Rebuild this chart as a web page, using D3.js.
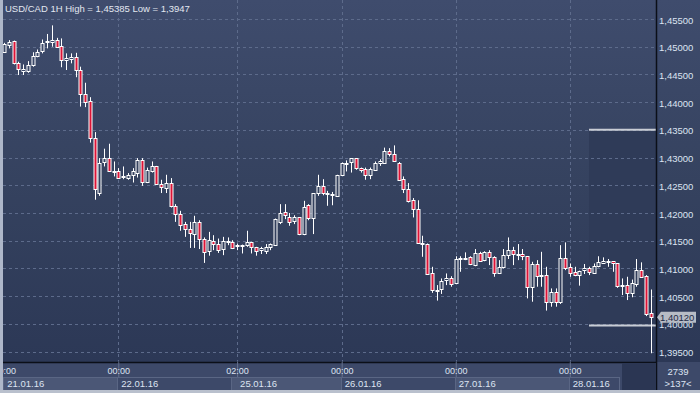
<!DOCTYPE html>
<html>
<head>
<meta charset="utf-8">
<script src="https://cdn.jsdelivr.net/npm/d3@7"></script>
<style>
  html, body { margin: 0; padding: 0; background: #2e3a57; }
  svg { display: block; font-family: "Liberation Sans", Arial, sans-serif; }
</style>
</head>
<body>
<svg id="chart" width="700" height="393"></svg>
<script>
const title = "USD/CAD 1H High = 1,45385 Low = 1,3947";

// hourly candles, 21.01.16 00:00 .. 28.01.16
const opens = [1.4491,1.4504,1.4510,1.4470,1.4457,1.4457,1.4467,1.4483,1.4491,1.4508,1.4510,1.4513,1.4501,1.4475,1.4478,1.4481,1.4458,1.4415,1.4402,1.4335,
  1.4237,1.4291,1.4299,1.4276,1.4276,1.4265,1.4264,1.4267,1.4273,1.4296,1.4257,1.4276,1.4285,1.4252,1.4246,1.4255,1.4213,1.4198,1.4180,1.4171,
  1.4163,1.4184,1.4154,1.4131,1.4150,1.4145,1.4135,1.4149,1.4147,1.4141,1.4142,1.4142,1.4148,1.4139,1.4132,1.4132,1.4138,1.4142,1.4183,1.4201,
  1.4193,1.4184,1.4192,1.4162,1.4214,1.4190,1.4236,1.4249,1.4236,1.4234,1.4232,1.4269,1.4290,1.4291,1.4299,1.4281,1.4279,1.4269,1.4279,1.4290,
  1.4291,1.4312,1.4306,1.4290,1.4261,1.4243,1.4223,1.4207,1.4146,1.4145,1.4091,1.4061,1.4062,1.4078,1.4083,1.4074,1.4117,1.4118,1.4120,1.4106,
  1.4128,1.4115,1.4129,1.4120,1.4092,1.4102,1.4124,1.4133,1.4126,1.4126,1.4122,1.4066,1.4108,1.4087,1.4088,1.4039,1.4057,1.4038,1.4118,1.4103,
  1.4094,1.4089,1.4096,1.4100,1.4092,1.4104,1.4111,1.4113,1.4113,1.4109,1.4069,1.4070,1.4055,1.4073,1.4098,1.4086,1.4019];
const highs = [1.4507,1.4512,1.4511,1.4473,1.4468,1.4474,1.4490,1.4495,1.4513,1.4523,1.45385,1.4516,1.4515,1.4488,1.4488,1.4489,1.4464,1.4435,1.4409,1.4346,
  1.4299,1.4316,1.4325,1.4293,1.4281,1.4284,1.4272,1.4281,1.4299,1.4299,1.4282,1.4293,1.4285,1.4260,1.4269,1.4263,1.4216,1.4204,1.4184,1.4184,
  1.4195,1.4187,1.4156,1.4166,1.4160,1.4154,1.4157,1.4156,1.4151,1.4145,1.4143,1.4168,1.4148,1.4139,1.4139,1.4144,1.4145,1.4190,1.4216,1.4216,
  1.4200,1.4196,1.4192,1.4222,1.4216,1.4236,1.4269,1.4261,1.4240,1.4238,1.4269,1.4291,1.4295,1.4299,1.4299,1.4282,1.4282,1.4282,1.4293,1.4297,
  1.4318,1.4317,1.4322,1.4292,1.4266,1.4254,1.4227,1.4223,1.4159,1.4145,1.4103,1.4070,1.4082,1.4091,1.4086,1.4122,1.4122,1.4129,1.4122,1.4135,
  1.4130,1.4131,1.4133,1.4122,1.4115,1.4135,1.4156,1.4139,1.4144,1.4135,1.4122,1.4112,1.4115,1.4130,1.4103,1.4064,1.4064,1.4142,1.4147,1.4109,
  1.4103,1.4096,1.4108,1.4103,1.4109,1.4122,1.4120,1.4117,1.4113,1.4109,1.4082,1.4085,1.4080,1.4117,1.4111,1.4088,1.4062];
const lows = [1.4489,1.4497,1.4468,1.4449,1.4449,1.4453,1.4464,1.4481,1.4488,1.4497,1.4500,1.4499,1.4463,1.4458,1.4470,1.4445,1.4392,1.4391,1.4327,1.4224,
  1.4231,1.4284,1.4274,1.4266,1.4263,1.4261,1.4260,1.4255,1.4264,1.4249,1.4254,1.4273,1.4251,1.4236,1.4236,1.4210,1.4184,1.4168,1.4157,1.4137,
  1.4137,1.4135,1.4110,1.4123,1.4133,1.4128,1.4124,1.4142,1.4135,1.4133,1.4127,1.4139,1.4127,1.4123,1.4126,1.4126,1.4133,1.4141,1.4180,1.4189,
  1.4177,1.4180,1.4160,1.4160,1.4187,1.4162,1.4231,1.4232,1.4213,1.4214,1.4231,1.4267,1.4275,1.4273,1.4278,1.4273,1.4260,1.4261,1.4278,1.4285,
  1.4290,1.4302,1.4293,1.4258,1.4236,1.4219,1.4192,1.4145,1.4121,1.4090,1.4056,1.4042,1.4054,1.4070,1.4067,1.4073,1.4094,1.4115,1.4106,1.4104,
  1.4112,1.4113,1.4106,1.4085,1.4090,1.4100,1.4117,1.4106,1.4115,1.4115,1.4046,1.4040,1.4067,1.4067,1.4024,1.4031,1.4031,1.4036,1.4097,1.4085,
  1.4086,1.4069,1.4090,1.4088,1.4090,1.4102,1.4109,1.4103,1.4094,1.4065,1.4052,1.4043,1.4048,1.4067,1.4084,1.4014,1.3947];
const closes = [1.4505,1.4509,1.4470,1.4459,1.4460,1.4467,1.4483,1.4491,1.4506,1.4510,1.4513,1.4500,1.4475,1.4479,1.4481,1.4458,1.4415,1.4401,1.4335,1.4243,
  1.4291,1.4299,1.4275,1.4275,1.4264,1.4266,1.4269,1.4275,1.4296,1.4257,1.4278,1.4285,1.4252,1.4247,1.4255,1.4213,1.4198,1.4178,1.4171,1.4163,
  1.4184,1.4153,1.4131,1.4151,1.4144,1.4135,1.4149,1.4148,1.4137,1.4142,1.4142,1.4148,1.4139,1.4131,1.4136,1.4139,1.4144,1.4189,1.4200,1.4195,
  1.4184,1.4192,1.4162,1.4211,1.4190,1.4236,1.4249,1.4236,1.4234,1.4234,1.4269,1.4290,1.4291,1.4299,1.4281,1.4278,1.4269,1.4279,1.4291,1.4293,
  1.4312,1.4306,1.4294,1.4260,1.4243,1.4222,1.4207,1.4146,1.4146,1.4091,1.4060,1.4061,1.4077,1.4082,1.4073,1.4117,1.4118,1.4119,1.4107,1.4128,
  1.4114,1.4129,1.4120,1.4091,1.4102,1.4124,1.4133,1.4126,1.4125,1.4122,1.4066,1.4108,1.4087,1.4088,1.4039,1.4057,1.4039,1.4118,1.4100,1.4093,
  1.4089,1.4096,1.4100,1.4092,1.4104,1.4112,1.4114,1.4112,1.4109,1.4067,1.4070,1.4055,1.4073,1.4098,1.4085,1.4018,1.4012];

const priceTicks = [1.395,1.400,1.405,1.410,1.415,1.420,1.425,1.430,1.435,1.440,1.445,1.450,1.455];
const timeTickIdx = [0, 24, 49, 71, 95, 119];
const timeTickLabels = ["00:00", "00:00", "02:00", "00:00", "00:00", "00:00"];
const dayStartIdx = [0, 24, 48, 71, 95, 119];
const dayLabels = ["21.01.16", "22.01.16", "25.01.16", "26.01.16", "27.01.16", "28.01.16"];
const lastPrice = 1.4012;
const rangeLevels = [1.435, 1.3997];
const barCount = "2739";
const visibleBars = ">137<";

const W = 700, H = 393;
const plotL = 3, plotR = 656, plotT = 0, plotB = 362;

const svg = d3.select("#chart");
const defs = svg.append("defs");

const grad = defs.append("linearGradient")
  .attr("id", "bg").attr("gradientUnits", "userSpaceOnUse")
  .attr("x1", 0).attr("y1", 0).attr("x2", 0).attr("y2", plotB);
grad.append("stop").attr("offset", 0).attr("stop-color", "#3f4c6d");
grad.append("stop").attr("offset", 0.5).attr("stop-color", "#35425f");
grad.append("stop").attr("offset", 1).attr("stop-color", "#2c3856");

defs.append("clipPath").attr("id", "plotClip")
  .append("rect").attr("x", plotL).attr("y", plotT)
  .attr("width", plotR - plotL).attr("height", plotB - plotT);

const x = d3.scaleLinear().domain([0, opens.length - 1]).range([4.23, 650.6]);
const y = d3.scaleLinear().domain([1.395, 1.455]).range([351.6, 19]);

// backgrounds
svg.append("rect").attr("width", W).attr("height", plotB).attr("fill", "url(#bg)");
svg.append("rect").attr("y", plotB).attr("width", W).attr("height", H - plotB).attr("fill", "#3d4969");

// range box on the right
const rx0 = 589;
svg.append("rect")
  .attr("x", rx0).attr("y", y(rangeLevels[0]))
  .attr("width", plotR - rx0).attr("height", y(rangeLevels[1]) - y(rangeLevels[0]))
  .attr("fill", "#2f3b58");

// grid
const grid = svg.append("g").attr("clip-path", "url(#plotClip)");
grid.selectAll(".hg").data(priceTicks).enter().append("line")
  .attr("x1", plotL).attr("x2", plotR)
  .attr("y1", d => Math.round(y(d)) + 0.5).attr("y2", d => Math.round(y(d)) + 0.5)
  .attr("stroke", "#5d6b8b").attr("stroke-dasharray", "3,3");
grid.selectAll(".vg").data(timeTickIdx.slice(1)).enter().append("line")
  .attr("x1", d => Math.round(x(d)) + 0.5).attr("x2", d => Math.round(x(d)) + 0.5)
  .attr("y1", plotT).attr("y2", plotB)
  .attr("stroke", "#5d6b8b").attr("stroke-dasharray", "3,3");

// range lines
svg.selectAll(".rl").data(rangeLevels).enter().append("line")
  .attr("x1", rx0).attr("x2", plotR)
  .attr("y1", d => y(d)).attr("y2", d => y(d))
  .attr("stroke", "#c9cdd5").attr("stroke-width", 2);

// candles
const idx = d3.range(opens.length);
const candles = svg.append("g").attr("clip-path", "url(#plotClip)");
candles.selectAll(".wick").data(idx).enter().append("line")
  .attr("x1", i => Math.round(x(i)) + 0.5).attr("x2", i => Math.round(x(i)) + 0.5)
  .attr("y1", i => y(highs[i])).attr("y2", i => y(lows[i]))
  .attr("stroke", "#ffffff").attr("stroke-width", 1);
candles.selectAll(".body").data(idx).enter().append("rect")
  .attr("x", i => Math.round(x(i)) - 1)
  .attr("y", i => Math.round(y(Math.max(opens[i], closes[i]))) + 0.5)
  .attr("width", 3)
  .attr("height", i => Math.max(1, Math.round(Math.abs(y(opens[i]) - y(closes[i])))))
  .attr("fill", i => closes[i] < opens[i] ? "#dc1437" : "url(#bg)")
  .attr("stroke", "#ffffff").attr("stroke-width", 1);

// frame lines
svg.append("line").attr("x1", plotR + 0.5).attr("x2", plotR + 0.5).attr("y1", 0).attr("y2", H)
  .attr("stroke", "#0b0f18").attr("stroke-width", 1.5);
svg.append("line").attr("x1", 0).attr("x2", plotR).attr("y1", plotB + 0.5).attr("y2", plotB + 0.5)
  .attr("stroke", "#0b0f18").attr("stroke-width", 1.5);

// right price axis
const yAxis = svg.append("g")
  .attr("transform", `translate(${plotR},1)`)
  .call(d3.axisRight(y).tickValues(priceTicks).tickSize(0).tickPadding(3)
    .tickFormat(d => d.toFixed(5).replace(".", ",")));
yAxis.select(".domain").remove();
yAxis.selectAll("text").attr("fill", "#dde4f2").style("font-size", "9.5px")
  .style("font-family", "'Liberation Sans', Arial, sans-serif");

// last price tag
const ty = y(lastPrice);
svg.append("path")
  .attr("d", `M${plotR + 1},${ty} L${plotR + 5},${ty - 5.5} L696,${ty - 5.5} L696,${ty + 5.5} L${plotR + 5},${ty + 5.5} Z`)
  .attr("fill", "#b7bcc5");
svg.append("text").attr("x", 660).attr("y", ty).attr("dy", "0.35em")
  .attr("fill", "#1d2a45").style("font-size", "9.5px").text(lastPrice.toFixed(5).replace(".", ","));

// date boxes
const dayEdges = dayStartIdx.map(i => Math.max(plotL, Math.round(x(i)) - 1));
dayEdges.push(619);
svg.selectAll(".dbox").data(dayLabels).enter().append("rect")
  .attr("x", (d, i) => dayEdges[i] + 0.5).attr("y", 377.5)
  .attr("width", (d, i) => dayEdges[i + 1] - dayEdges[i]).attr("height", 13)
  .attr("fill", (d, i) => i % 2 === 0 ? "#4b5776" : "#3d4969")
  .attr("stroke", "#5a6684");
svg.append("rect").attr("x", 622).attr("y", plotB + 1).attr("width", plotR - 622).attr("height", 28)
  .attr("fill", "#2b3653");

// time labels
const xAxis = svg.append("g").attr("transform", `translate(0,${plotB})`)
  .call(d3.axisBottom(x).tickValues(timeTickIdx).tickSize(15).tickPadding(-9)
    .tickFormat((d, i) => timeTickLabels[i]));
xAxis.select(".domain").remove();
xAxis.selectAll("line").attr("stroke", "#66728f");
xAxis.selectAll("text").attr("fill", "#dde4f2").style("font-size", "9px")
  .style("font-family", "'Liberation Sans', Arial, sans-serif");
xAxis.selectAll(".tick").filter(d => d === 0).select("line").remove();

svg.selectAll(".dlab").data(dayLabels).enter().append("text")
  .attr("x", (d, i) => x(timeTickIdx[i]) + 3)
  .attr("y", 386.5)
  .attr("fill", "#dde4f2").style("font-size", "9.5px").text(d => d);

// bottom right counters
svg.append("text").attr("x", 678).attr("y", 374.5).attr("text-anchor", "middle")
  .attr("fill", "#dde4f2").style("font-size", "9.5px").text(barCount);
svg.append("text").attr("x", 678).attr("y", 386.5).attr("text-anchor", "middle")
  .attr("fill", "#dde4f2").style("font-size", "9.5px").text(visibleBars);

// title
svg.append("text").attr("x", 5).attr("y", 11.5)
  .attr("fill", "#e2e7f0").style("font-size", "9.5px").text(title);

// outer border
svg.append("rect").attr("x", 0).attr("y", 0).attr("width", plotL).attr("height", H).attr("fill", "#aeb7c9");
svg.append("rect").attr("x", 0).attr("y", 390).attr("width", W).attr("height", 3).attr("fill", "#b9c0cd");
</script>
</body>
</html>
